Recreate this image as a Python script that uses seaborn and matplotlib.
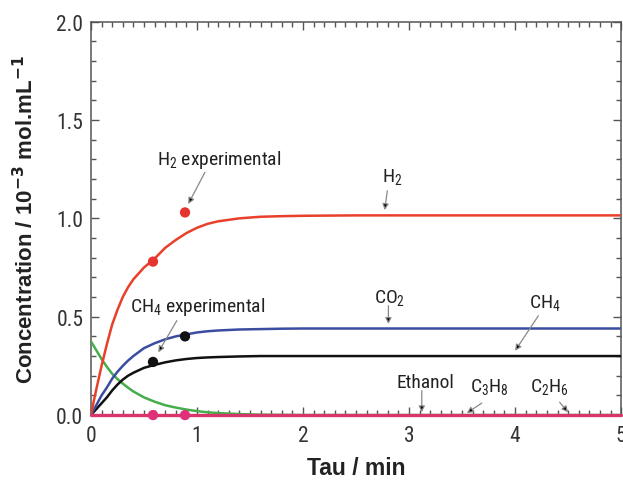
import numpy as np
import pandas as pd
import matplotlib
matplotlib.use("Agg")
import matplotlib.pyplot as plt
from matplotlib import font_manager
from matplotlib.ticker import MultipleLocator
import seaborn as sns

# valores
tau = [0, 0.025, 0.05, 0.075, 0.1, 0.125, 0.15, 0.2, 0.25, 0.3, 0.35, 0.4, 0.5, 0.6, 0.7,
       0.8, 0.9, 1.0, 1.1, 1.2, 1.4, 1.6, 1.8, 2.0, 2.5, 3.0, 4.0, 5.0]
h2 = [0, 0.067, 0.13, 0.19, 0.25, 0.305, 0.36, 0.46, 0.535, 0.60, 0.65, 0.69, 0.75, 0.795,
      0.85, 0.89, 0.925, 0.952, 0.972, 0.985, 1.0, 1.008, 1.011, 1.013, 1.015, 1.015, 1.015, 1.015]
co2 = [0, 0.025, 0.05, 0.075, 0.10, 0.12, 0.14, 0.185, 0.22, 0.25, 0.277, 0.30, 0.34, 0.365,
       0.385, 0.40, 0.41, 0.42, 0.426, 0.43, 0.435, 0.437, 0.439, 0.44, 0.44, 0.44, 0.44, 0.44]
ch4 = [0, 0.015, 0.03, 0.045, 0.06, 0.075, 0.09, 0.125, 0.155, 0.18, 0.2, 0.215, 0.24, 0.255,
       0.268, 0.278, 0.285, 0.29, 0.293, 0.295, 0.298, 0.30, 0.30, 0.30, 0.30, 0.30, 0.30, 0.30]
etanol = [0.375, 0.352, 0.33, 0.307, 0.285, 0.265, 0.245, 0.21, 0.183, 0.16, 0.139, 0.12, 0.09,
          0.068, 0.05, 0.038, 0.028, 0.02, 0.014, 0.01, 0.005, 0.002, 0.001, 0, 0, 0, 0, 0]
c2h6 = [0] * len(tau)

tau_exp = [0.585, 0.887]
h2_exp = [0.78, 1.03]
ch4_exp = [0.27, 0.40]
outros_exp = [0.0, 0.0]

# procura uma fonte estreita instalada
nomes = {}
for f in font_manager.fontManager.ttflist:
    nomes.setdefault(f.name, []).append(str(f.stretch).lower())
estica = "normal"
if "Liberation Sans Narrow" in nomes:
    estreita = "Liberation Sans Narrow"
elif "Roboto Condensed" in nomes:
    estreita = "Roboto Condensed"
elif any(s in ("condensed", "semi-condensed", "625", "750") for s in nomes.get("DejaVu Sans", [])):
    estreita = "DejaVu Sans"
    estica = "condensed"
else:
    estreita = "Liberation Sans"

sns.set_style("ticks")
plt.rcParams["font.family"] = [estreita, "DejaVu Sans"]
plt.rcParams["font.stretch"] = estica
plt.rcParams["mathtext.fontset"] = "custom"
plt.rcParams["mathtext.rm"] = f"{estreita}:stretch={estica}"
plt.rcParams["mathtext.it"] = f"{estreita}:stretch={estica}"
plt.rcParams["mathtext.default"] = "regular"

tam = 15.5 if estreita != "Liberation Sans" else 13.5
tam_nota = 14 if estreita != "Liberation Sans" else 12

fig = plt.figure(figsize=(6.23, 4.81), dpi=100)
ax = fig.add_axes([0.146, 0.135, 0.851, 0.818])

lw = 1.8
sns.lineplot(x=tau, y=etanol, color="#45ad4a", lw=lw, ax=ax, zorder=3)
sns.lineplot(x=tau, y=ch4, color="#111111", lw=lw, ax=ax, zorder=4)
sns.lineplot(x=tau, y=co2, color="#3b4da0", lw=lw, ax=ax, zorder=4)
sns.lineplot(x=tau, y=h2, color="#e8402a", lw=lw, ax=ax, zorder=4)
linha_zero = sns.lineplot(x=tau, y=c2h6, color="#d8356a", lw=2.4, ax=ax, zorder=5)
linha_zero.lines[-1].set_clip_on(False)

pts = [(h2_exp, "#e53530"), (ch4_exp, "#111111"), (outros_exp, "#e0307a")]
for vals, cor in pts:
    sns.scatterplot(x=tau_exp, y=vals, color=cor, s=55, edgecolor="none",
                    ax=ax, zorder=6, clip_on=False)

ax.set_xlim(0, 5)
ax.set_ylim(0, 2.0)
ax.xaxis.set_major_locator(MultipleLocator(1))
ax.xaxis.set_minor_locator(MultipleLocator(0.1))
ax.yaxis.set_major_locator(MultipleLocator(0.5))
ax.yaxis.set_minor_locator(MultipleLocator(0.1))
ax.set_yticks([0, 0.5, 1.0, 1.5, 2.0])
ax.set_yticklabels(["0.0", "0.5", "1.0", "1.5", "2.0"])
ax.tick_params(which="both", direction="in", top=True, right=True, colors="#555555",
               labelcolor="#333333", labelsize=tam)
ax.tick_params(which="major", length=6, width=1)
ax.tick_params(which="minor", length=3.5, width=1)
ax.tick_params(axis="x", which="major", pad=7)
ax.tick_params(axis="y", which="major", pad=5.5)
for s in ax.spines.values():
    s.set_color("#555555")
    s.set_linewidth(1.1)

ax.set_xlabel("Tau / min", fontsize=16.5, fontweight="bold", family="Liberation Sans",
              stretch="normal", color="#222222")
ax.set_ylabel(r"Concentration / 10$^{\mathbf{-3}}$ mol.mL$^{\mathbf{-1}}$", fontsize=16,
              fontweight="bold", family="Liberation Sans", stretch="normal", color="#222222")
ax.xaxis.set_label_coords(0.5, -0.105)
ax.yaxis.set_label_coords(-0.1, 0.5)

seta = dict(arrowstyle="-|>", ec="#888888", fc="black", lw=0.9, mutation_scale=9,
            shrinkA=0, shrinkB=0)
notas = [
    ("H$_2$ experimental", (1.21, 1.30), (1.075, 1.234), (0.918, 1.073)),
    ("H$_2$", (2.84, 1.215), (2.795, 1.14), (2.77, 1.042)),
    ("CO$_2$", (2.82, 0.598), (2.805, 0.556), (2.805, 0.463)),
    ("CH$_4$", (4.28, 0.573), (4.22, 0.505), (4.0, 0.327)),
    ("CH$_4$ experimental", (1.01, 0.556), (0.81, 0.48), (0.635, 0.319)),
    ("Ethanol", (3.15, 0.166), (3.12, 0.124), (3.12, 0.014)),
    ("C$_3$H$_8$", (3.76, 0.146), (3.686, 0.061), (3.545, 0.01)),
    ("C$_2$H$_6$", (4.32, 0.149), (4.42, 0.065), (4.50, 0.014)),
]
for texto, pos, ini, fim in notas:
    ax.text(pos[0], pos[1], texto, fontsize=tam_nota, ha="center", va="center",
            color="#222222", zorder=7)
    ax.annotate("", xy=fim, xytext=ini, arrowprops=seta, zorder=7)

fig.savefig("out.png", dpi=100)
